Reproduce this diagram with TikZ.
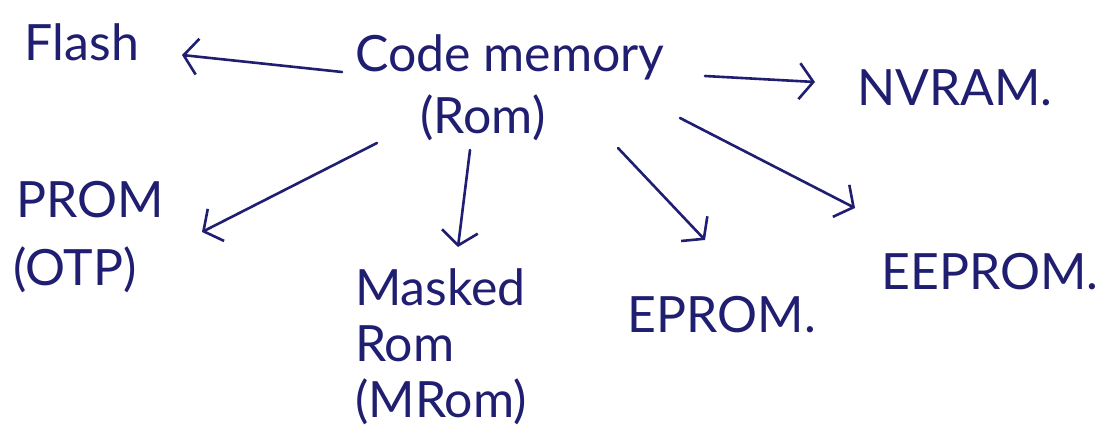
\documentclass[tikz,border=0pt]{standalone}
\usepackage{fontspec}
\setmainfont{Lato}
\usetikzlibrary{arrows.meta}
\definecolor{ink}{RGB}{32,30,112}
\tikzset{
  lbl/.style={text=ink, inner sep=0pt, font=\fontsize{50}{56}\selectfont},
  arr/.style={draw=ink, line width=2.6pt, line cap=round,
    -{Straight Barb[length=14pt,width=36pt,line width=2.6pt]}}
}
\begin{document}
\begin{tikzpicture}[x=1pt,y=-1pt]
  \useasboundingbox (0,0) rectangle (1111,428);
  \fill[white] (0,0) rectangle (1111,428);

  % root of the tree
  \node[lbl] (code) at (510,57) {Code memory};
  \node[lbl] (rom) at (483,118) {(Rom)};

  % kinds of code memory
  \node[lbl] (flash) at (82,42) {Flash};
  \node[lbl] (nvram) at (955,88) {NVRAM.};
  \node[lbl] (prom) at (90,200) {PROM};
  \node[lbl] (otp) at (75,270) {(OTP)};
  \node[lbl, anchor=north west, align=left] (masked) at (355,268) {Masked\\Rom\\(MRom)};
  \node[lbl] (eprom) at (722,315) {EPROM.};
  \node[lbl] (eeprom) at (990,272) {EEPROM.};

  % connectors
  \draw[arr] ([shift={(-168,15)}]code.center) -- ([shift={(100,13)}]flash.center);
  \draw[arr] ([shift={(195,19)}]code.center) -- ([shift={(-140,-6)}]nvram.center);
  \draw[arr] ([shift={(-106,25)}]rom.center) -- ([shift={(112,32)}]prom.center);
  \draw[arr] ([shift={(-13,32)}]rom.center) -- ([shift={(103,-21)}]masked.north west);
  \draw[arr] ([shift={(135,30)}]rom.center) -- ([shift={(-17,-75)}]eprom.center);
  \draw[arr] ([shift={(170,61)}]code.center) -- ([shift={(-135,-64)}]eeprom.center);
\end{tikzpicture}
\end{document}
